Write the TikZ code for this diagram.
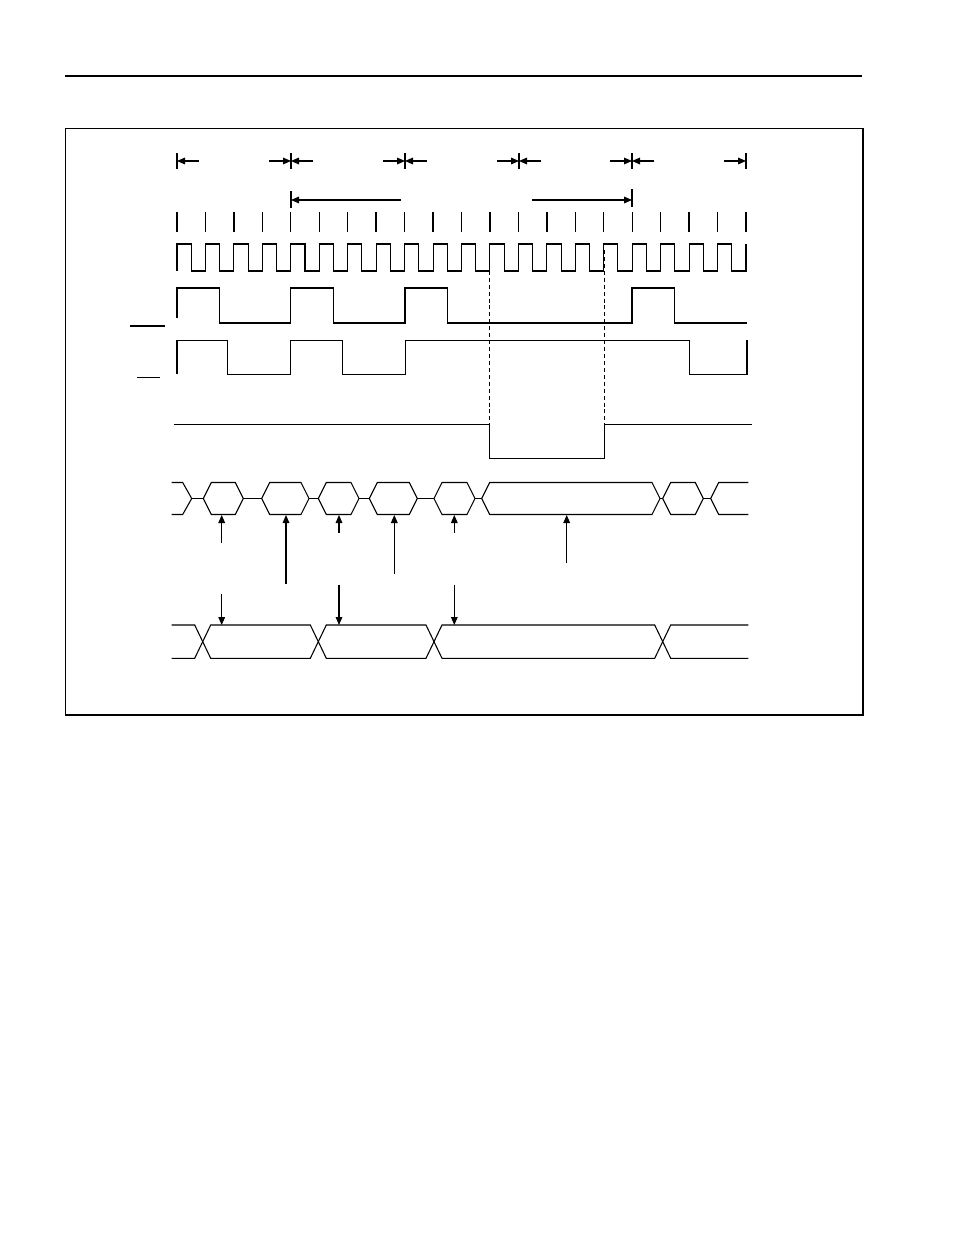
\documentclass[tikz,border=0pt]{standalone}
\usetikzlibrary{arrows.meta}
\begin{document}
\begin{tikzpicture}[x=0.75pt,y=-0.75pt,
  sig/.style={line width=0.8pt,line join=miter},
  dimarr/.style={line width=0.8pt,-{Triangle[length=6pt,width=5pt]}},
  tickbar/.style={line width=1pt},
  dashv/.style={line width=0.7pt,dash pattern=on 3pt off 2.2pt},
  frameline/.style={line width=0.9pt}]
\useasboundingbox (0,0) rectangle (954,1235);
% header rule and frame
\draw[line width=1.1pt] (65,76) -- (862,76);
\draw[frameline] (863,128.5) -- (65.5,128.5) -- (65.5,715) -- (863,715);
\draw[line width=1.5pt] (863,128) -- (863,715.6);
% row 1 dimension marks
\foreach \x in {177,291,405,519,632,746}
  \draw[tickbar] (\x,153) -- (\x,169);
\foreach \x in {177,291,405,519,632}
  \draw[dimarr] (\x+22,161) -- (\x,161);
\foreach \x in {291,405,519,632,746}
  \draw[dimarr] (\x-22,161) -- (\x,161);
% row 2
\draw[tickbar] (291,191) -- (291,208);
\draw[dimarr] (401,200) -- (291,200);
\draw[tickbar] (632,189) -- (632,207);
\draw[dimarr] (532,200) -- (632,200);
% tick row
\foreach \k in {0,...,20}
  \draw[tickbar] ({177+28.45*\k},212) -- ({177+28.45*\k},232);
% clock
\draw[sig] (177,271) -- (177,244)
  \foreach \k in {0,...,19} { -- ({177+28.45*\k+14.2},244) -- ({177+28.45*\k+14.2},271) -- ({177+28.45*(\k+1)},271) -- ({177+28.45*(\k+1)},244) };
% signal 3
\draw[sig] (177,318) -- (177,288) -- (219.5,288) -- (219.5,323) -- (290.7,323) -- (290.7,288) -- (333.3,288) -- (333.3,323)
  -- (405,323) -- (405,288) -- (447.7,288) -- (447.7,323) -- (632,323) -- (632,288) -- (674.7,288) -- (674.7,323) -- (746.5,323);
\draw[sig] (130,326) -- (165,326);
% signal 4
\draw[sig] (177,374.3) -- (177,340.3) -- (227.3,340.3) -- (227.3,374.3) -- (290.7,374.3) -- (290.7,340.3) -- (342.3,340.3) -- (342.3,374.3)
  -- (405.3,374.3) -- (405.3,340.3) -- (689.3,340.3) -- (689.3,374.3) -- (747,374.3) -- (747,340.3);
\draw[sig] (137,377.3) -- (160,377.3);
% signal 5
\draw[sig] (174,424.3) -- (489.5,424.3) -- (489.5,458.3) -- (604.3,458.3) -- (604.3,424.3) -- (751.5,424.3);
% dashed markers
\draw[dashv] (489.5,250) -- (489.5,458);
\draw[dashv] (604.3,250) -- (604.3,458);
% bus 1
\def\T{482.5}\def\B{514.5}\def\M{498.5}
\draw[sig] (171.7,\T) -- (182.7,\T) -- (191.7,\M) -- (182.7,\B) -- (171.7,\B);
\draw[sig] (191.7,\M) -- (203.3,\M);
\foreach \L/\R in {203.3/243.3,261.7/309,318.3/359,369.3/417.3,434/475,481.7/660,662.7/703.3}
  \draw[sig] (\L,\M) -- (\L+8,\T) -- (\R-8,\T) -- (\R,\M) -- (\R-8,\B) -- (\L+8,\B) -- cycle;
\foreach \L/\R in {203.3/243.3,261.7/309,318.3/359,369.3/417.3,434/475,481.7/660}
  \draw[line width=1.3pt] (\L+8,\B) -- (\R-8,\B);
\foreach \a/\b in {243.3/261.7,309/318.3,359/369.3,417.3/434,475/481.7,660/662.7,703.3/710.7}
  \draw[sig] (\a,\M) -- (\b,\M);
\draw[sig] (748.3,\T) -- (718.7,\T) -- (710.7,\M) -- (718.7,\B) -- (748.3,\B);
\draw[line width=1.3pt] (718.7,\B) -- (748.3,\B);
% arrows up to bus 1
\foreach \x/\y in {221.7/543,286/584,339/533,394.3/574,454.3/533,566.7/563}
  \draw[dimarr] (\x,\y) -- (\x,515);
% bus 2
\def\TT{625}\def\BB{658.3}
\draw[sig] (171.7,\TT) -- (194.7,\TT) -- (210.7,\BB) -- (310.3,\BB) -- (326.3,\TT) -- (426,\TT) -- (442,\BB) -- (654.7,\BB) -- (670.7,\TT) -- (748.3,\TT);
\draw[sig] (171.7,\BB) -- (194.7,\BB) -- (210.7,\TT) -- (310.3,\TT) -- (326.3,\BB) -- (426,\BB) -- (442,\TT) -- (654.7,\TT) -- (670.7,\BB) -- (748.3,\BB);
% arrows down to bus 2
\foreach \x/\y in {221.7/594,339/585,454.3/585}
  \draw[dimarr] (\x,\y) -- (\x,625);
\end{tikzpicture}
\end{document}
